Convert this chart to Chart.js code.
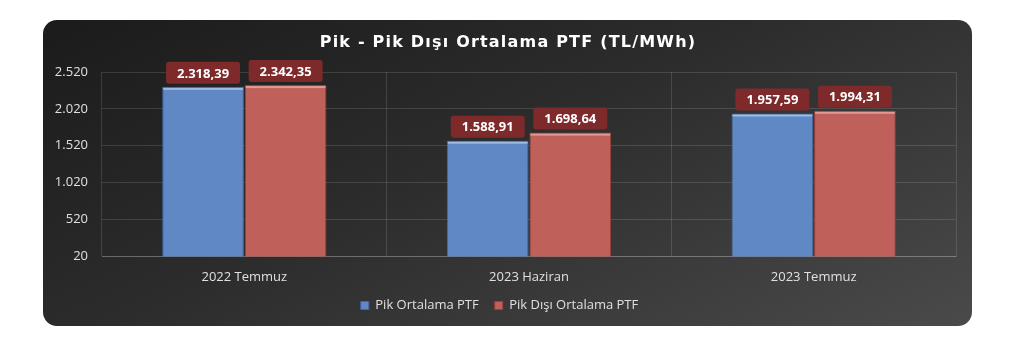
<!DOCTYPE html>
<html>
<head>
<meta charset="utf-8">
<script src="https://cdn.jsdelivr.net/npm/chart.js@4.4.1/dist/chart.umd.min.js"></script>
<style>
  html, body { margin: 0; padding: 0; background: #ffffff; }
  #panel {
    position: absolute; left: 43px; top: 20px; width: 929px; height: 306px;
    border-radius: 14px;
    background: linear-gradient(155deg, #1b1b1b 0%, #2c2c2c 45%, #4a4a4a 100%);
    overflow: hidden;
  }
  #chart-wrap { position: absolute; left: 0; top: 0; width: 929px; height: 306px; }
</style>
</head>
<body>
<div id="panel"><div id="chart-wrap"><canvas id="ptf-chart"></canvas></div></div>
<script>
// Chart data
const categories = ['2022 Temmuz', '2023 Haziran', '2023 Temmuz'];
const pikValues = [2318.39, 1588.91, 1957.59];
const pikDisiValues = [2342.35, 1698.64, 1994.31];
const seriesNames = ['Pik Ortalama PTF', 'Pik Dışı Ortalama PTF'];
const chartTitle = 'Pik - Pik Dışı Ortalama PTF (TL/MWh)';
const yMin = 20;
const yMax = 2520;
const yStep = 500;
const highlightColors = ['#9dbbe6', '#e39a95'];

// Turkish number format: 2.318,39
function formatTR(value, decimals) {
    const parts = value.toFixed(decimals).split('.');
    const intPart = parts[0].replace(/\B(?=(\d{3})+(?!\d))/g, '.');
    return parts.length > 1 ? intPart + ',' + parts[1] : intPart;
}

// Spaced-out title drawn by hand (Chart.js title has no letter spacing)
const spacedTitlePlugin = {
    id: 'spacedTitle',
    afterDraw(chart) {
        const ctx = chart.ctx;
        ctx.save();
        ctx.font = 'bold 16px "DejaVu Sans", sans-serif';
        ctx.letterSpacing = '1.2px';
        ctx.fillStyle = '#ffffff';
        ctx.textAlign = 'center';
        ctx.textBaseline = 'middle';
        ctx.fillText(chartTitle, 465, 23);
        ctx.restore();
    }
};

// Bevel highlight on bar tops + value boxes above each bar
const valueLabelPlugin = {
    id: 'valueLabels',
    afterDatasetsDraw(chart) {
        const ctx = chart.ctx;
        ctx.save();
        chart.data.datasets.forEach((ds, i) => {
            chart.getDatasetMeta(i).data.forEach(bar => {
                ctx.fillStyle = highlightColors[i];
                ctx.fillRect(bar.x - bar.width / 2 + 1, bar.y + 1, bar.width - 2, 2);
            });
        });
        ctx.font = 'bold 13px "Open Sans", sans-serif';
        ctx.textAlign = 'center';
        ctx.textBaseline = 'middle';
        chart.data.datasets.forEach((ds, i) => {
            chart.getDatasetMeta(i).data.forEach((bar, j) => {
                const text = formatTR(ds.data[j], 2);
                const w = 74, h = 22;
                const x = bar.x - w / 2;
                const y = bar.y - h - 3;
                ctx.fillStyle = '#7e2a2a';
                ctx.beginPath();
                ctx.roundRect(x, y, w, h, 3);
                ctx.fill();
                ctx.fillStyle = '#ffffff';
                ctx.fillText(text, bar.x, y + h / 2 + 1);
            });
        });
        ctx.restore();
    }
};

const ctx = document.getElementById('ptf-chart').getContext('2d');
new Chart(ctx, {
    type: 'bar',
    data: {
        labels: categories,
        datasets: [{
            label: seriesNames[0],
            data: pikValues,
            backgroundColor: '#5f88c5',
            borderColor: '#3f6aa6',
            borderWidth: 1,
            categoryPercentage: 0.58,
            barPercentage: 0.99
        }, {
            label: seriesNames[1],
            data: pikDisiValues,
            backgroundColor: '#c0605b',
            borderColor: '#9a3f3b',
            borderWidth: 1,
            categoryPercentage: 0.58,
            barPercentage: 0.99
        }]
    },
    options: {
        responsive: true,
        maintainAspectRatio: false,
        animation: false,
        layout: { padding: { left: 0, right: 16, top: 52, bottom: 4 } },
        scales: {
            x: {
                afterFit: scale => { scale.height -= 15; },
                grid: { color: 'rgba(255,255,255,0.13)', offset: true, drawTicks: false },
                border: { color: 'rgba(255,255,255,0.2)' },
                ticks: { color: '#e0e0e0', font: { size: 13, family: '"Open Sans", sans-serif' }, padding: 13 }
            },
            y: {
                min: yMin,
                max: yMax,
                afterFit: scale => { scale.width = 59; },
                grid: { color: 'rgba(255,255,255,0.13)', drawTicks: false },
                border: { display: false },
                ticks: {
                    stepSize: yStep,
                    color: '#e0e0e0',
                    padding: 14,
                    font: { size: 13, family: '"Open Sans", sans-serif' },
                    callback: value => formatTR(value, 0)
                }
            }
        },
        plugins: {
            title: { display: false },
            legend: {
                position: 'bottom',
                labels: {
                    color: '#e0e0e0',
                    boxWidth: 8,
                    boxHeight: 8,
                    padding: 16,
                    font: { size: 13, family: '"Open Sans", sans-serif' }
                }
            },
            tooltip: { enabled: false }
        }
    },
    plugins: [valueLabelPlugin, spacedTitlePlugin]
});
</script>
</body>
</html>
